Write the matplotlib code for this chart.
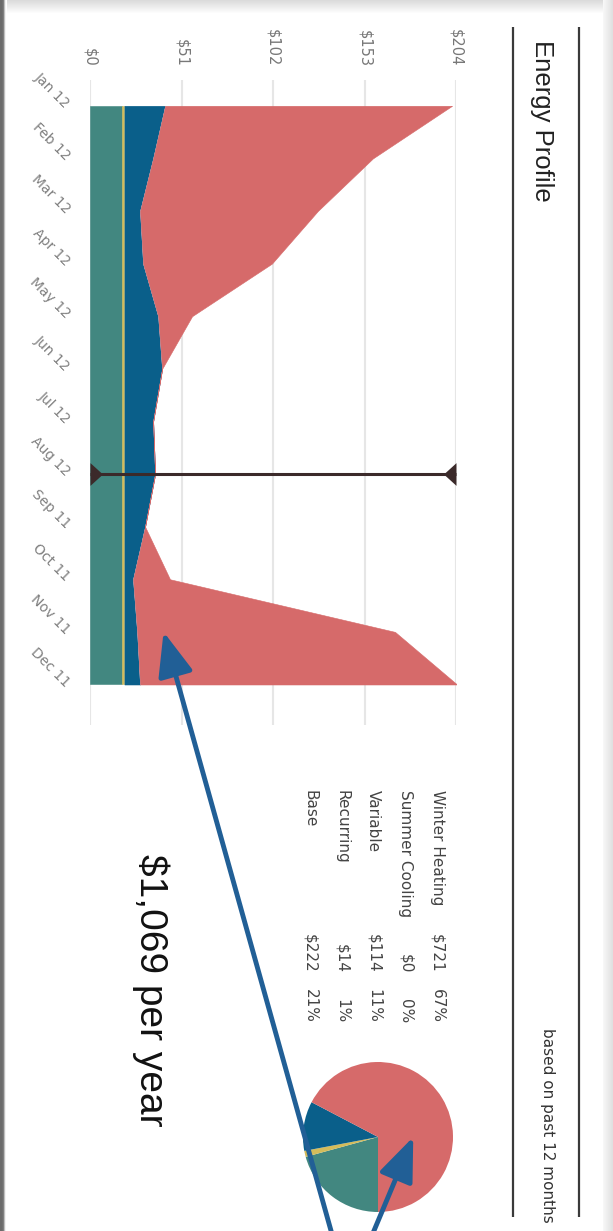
import numpy as np
import matplotlib
matplotlib.use('Agg')
import matplotlib.pyplot as plt

# Données (valeurs mensuelles en $, empilées)
mois = ['Jan 12', 'Feb 12', 'Mar 12', 'Apr 12', 'May 12', 'Jun 12',
        'Jul 12', 'Aug 12', 'Sep 11', 'Oct 11', 'Nov 11', 'Dec 11']
base = [18.0, 18.0, 18.0, 18.0, 18.0, 18.0, 18.0, 18.0, 18.0, 18.0, 18.0, 18.0]
recurrent = [1.2, 1.2, 1.2, 1.2, 1.2, 1.2, 1.2, 1.2, 1.2, 1.2, 1.2, 1.2]
variable = [22.7, 16.0, 8.7, 10.4, 18.8, 21.0, 16.0, 17.1, 11.5, 4.8, 7.1, 8.7]
climatisation = [0, 0, 0, 0, 0, 0, 0, 0, 0, 0, 0, 0]
chauffage = [159.9, 122.5, 99.1, 71.8, 18.9, 0, 0, 0, 0, 20.6, 143.7, 176.7]

ticks_valeurs = [0, 51, 102, 153, 204]
mois_selection = 'Aug 12'

# Récapitulatif annuel (camembert + tableau)
postes = ['Winter Heating', 'Summer Cooling', 'Variable', 'Recurring', 'Base']
montants = [721, 0, 114, 14, 222]
pourcentages = ['67%', '0%', '11%', '1%', '21%']
total_annuel = 1069

# Cibles des flèches
fleche_mois, fleche_valeur = 'Nov 11', 41
fleche_pie = (0.47, 0.0)

couleurs = {'Winter Heating': '#d66a6a', 'Summer Cooling': '#8fb9d8',
            'Variable': '#0a5f8a', 'Recurring': '#d4bc5a', 'Base': '#428780'}
bleu_fleche = '#215f96'

W, H = 613, 1231
fig = plt.figure(figsize=(W / 100, H / 100), dpi=100)
fig.patch.set_facecolor('white')


def boite(x0, y0, x1, y1):
    """boîte en pixels (origine en haut à gauche) -> rect en fraction de figure"""
    return [x0 / W, 1 - y1 / H, (x1 - x0) / W, (y1 - y0) / H]


# Fond : ombres de la capture d'écran
bg = fig.add_axes([0, 0, 1, 1], zorder=-10)
bg.set_xlim(0, W)
bg.set_ylim(H, 0)
bg.axis('off')
haut = np.linspace(0.86, 1.0, 14)[:, None, None] * np.ones((1, 1, 3))
bg.imshow(haut, extent=(0, W, 14, 0), aspect='auto')
droite = np.linspace(0.97, 0.88, 10)[None, :, None] * np.ones((1, 1, 3))
bg.imshow(droite, extent=(603, W, H, 0), aspect='auto')
gauche = np.array([0.42, 0.42, 0.44, 0.5, 0.75, 0.95, 1.0])[None, :, None] * np.ones((1, 1, 3))
bg.imshow(gauche, extent=(0, 7, H, 0), aspect='auto')
bg.set_xlim(0, W)
bg.set_ylim(H, 0)
for xl in (513, 579):
    bg.plot([xl, xl], [27, 1217], color='#3a3a3a', lw=1.6, solid_capstyle='butt')

# Graphique en aires empilées (tourné de 90°)
ax = fig.add_axes(boite(90, 80, 456, 725))
y = np.arange(len(mois))
c0 = np.array(base)
c1 = c0 + np.array(recurrent)
c2 = c1 + np.array(variable)
c3 = c2 + np.array(climatisation)
c4 = c3 + np.array(chauffage)
for bas, haut_, nom in [(0, c0, 'Base'), (c0, c1, 'Recurring'), (c1, c2, 'Variable'),
                        (c2, c3, 'Summer Cooling'), (c3, c4, 'Winter Heating')]:
    ax.fill_betweenx(y, bas, haut_, color=couleurs[nom], lw=0.4, zorder=2)

ax.set_xlim(ticks_valeurs[0], ticks_valeurs[-1])
ax.set_ylim(len(mois) - 1 + 0.77, -0.49)
ax.set_xticks(ticks_valeurs)
ax.set_xticklabels([f'${v}' for v in ticks_valeurs], rotation=-90)
ax.xaxis.tick_top()
ax.tick_params(axis='x', length=0, pad=9.5, labelsize=10.5, labelcolor='#777777')
ax.set_yticks(y)
ax.set_yticklabels(mois, rotation=-45, ha='right', va='center', rotation_mode='anchor')
ax.tick_params(axis='y', length=0, pad=16, labelsize=10, labelcolor='#808080')
ax.grid(axis='x', color='#e6e6e6', lw=1.5)
ax.grid(axis='y', visible=False)
ax.set_axisbelow(True)
for s in ax.spines.values():
    s.set_visible(False)

# Curseur sur le mois sélectionné
sel = mois.index(mois_selection)
brun = '#3b2a2a'
ax.plot([ticks_valeurs[0], ticks_valeurs[-1]], [sel, sel], color=brun, lw=2.2,
        solid_capstyle='butt', clip_on=False, zorder=5)
ax.plot([ticks_valeurs[0]], [sel], marker=[(0, -1), (1.1, 0), (0, 1)], ms=18,
        color=brun, mew=0, clip_on=False, zorder=6)
ax.plot([ticks_valeurs[-1]], [sel], marker=[(0, -1), (-1.1, 0), (0, 1)], ms=18,
        color=brun, mew=0, clip_on=False, zorder=6)

# Camembert
pie_ax = fig.add_axes(boite(303, 1062, 453, 1212))
ordre = [(m, couleurs[p]) for p, m in zip(postes[::-1], montants[::-1]) if m > 0]
pie_ax.pie([m for m, _ in ordre], colors=[c for _, c in ordre], startangle=-90,
           counterclock=False, radius=1, wedgeprops=dict(lw=0))
pie_ax.set_xlim(-1, 1)
pie_ax.set_ylim(-1, 1)
pie_ax.set_aspect('equal')

# Calque de textes et flèches (coordonnées en pixels)
ov = fig.add_axes([0, 0, 1, 1], zorder=10)
ov.set_xlim(0, W)
ov.set_ylim(H, 0)
ov.axis('off')

ov.text(542, 40, 'Energy Profile', rotation=-90, rotation_mode='anchor', ha='left',
        va='center', fontsize=18.5, family='Liberation Sans', color='#222222')
ov.text(548, 1223, 'based on past 12 months', rotation=-90, rotation_mode='anchor',
        ha='right', va='center', fontsize=11, color='#333333')

for i, (nom, m, p) in enumerate(zip(postes, montants, pourcentages)):
    xc = 437 - i * 31.7
    kw = dict(rotation=-90, rotation_mode='anchor', va='center', fontsize=11, color='#444444')
    ov.text(xc, 790, nom, ha='left', **kw)
    ov.text(xc, 973, f'${m}', ha='right', **kw)
    ov.text(xc, 1023, p, ha='right', **kw)

ov.text(151, 990, f'${total_annuel:,} per year', rotation=-90, rotation_mode='anchor',
        ha='center', va='center', fontsize=28, family='Liberation Sans', color='#111111')

style = dict(arrowstyle='-|>,head_length=1.5,head_width=0.6', mutation_scale=18,
             lw=3.5, color=bleu_fleche, shrinkA=0, shrinkB=0)
ov.annotate('', xy=(fleche_valeur, mois.index(fleche_mois)), xycoords=ax.transData,
            xytext=(335, 1245), textcoords='data', arrowprops=style, annotation_clip=False)
ov.annotate('', xy=fleche_pie, xycoords=pie_ax.transData,
            xytext=(368, 1245), textcoords='data', arrowprops=style, annotation_clip=False)

fig.savefig('out.png', dpi=100)
